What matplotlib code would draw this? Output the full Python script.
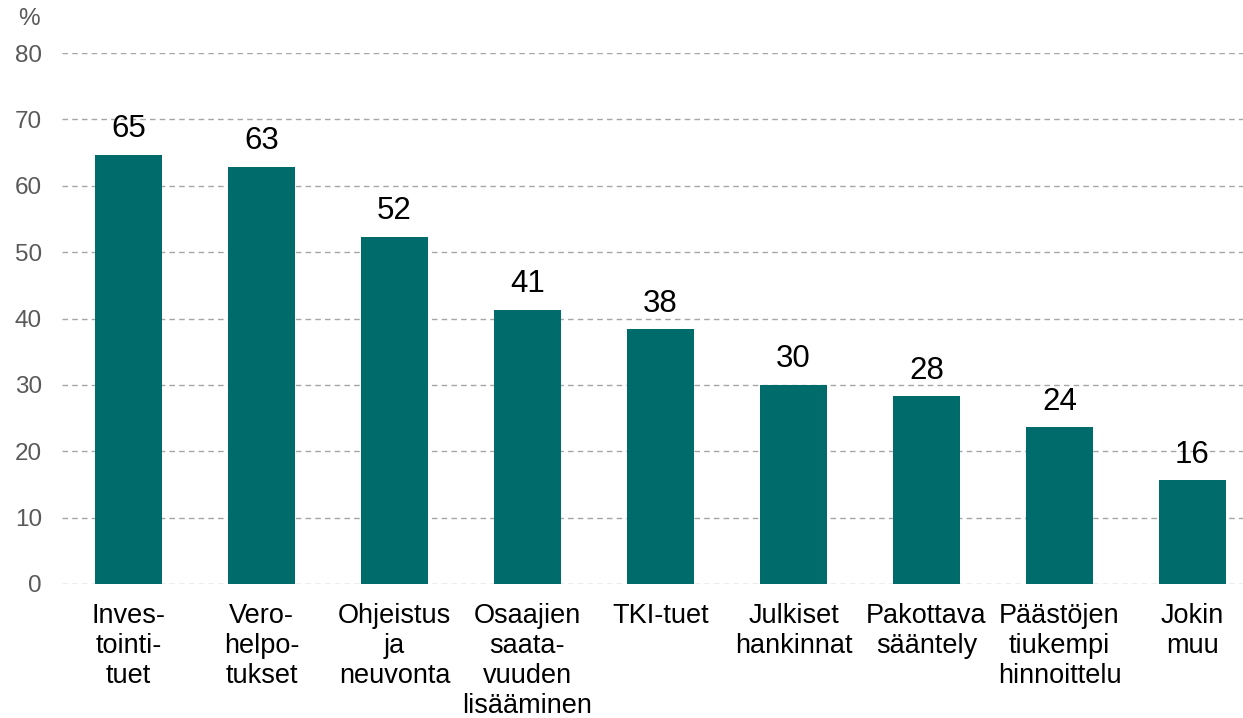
import numpy as np
import matplotlib.pyplot as plt

plt.rcParams['font.family'] = ['Liberation Sans', 'DejaVu Sans']

categories = ['Inves-\ntointi-\ntuet', 'Vero-\nhelpo-\ntukset', 'Ohjeistus\nja\nneuvonta',
              'Osaajien\nsaata-\nvuuden\nlisääminen', 'TKI-tuet', 'Julkiset\nhankinnat',
              'Pakottava\nsääntely', 'Päästöjen\ntiukempi\nhinnoittelu', 'Jokin\nmuu']
values = [64.7, 62.9, 52.3, 41.3, 38.4, 30.0, 28.3, 23.6, 15.6]
yticks = [0, 10, 20, 30, 40, 50, 60, 70, 80]

bar_color = '#006B6B'
grid_color = '#A6A6A6'
tick_color = '#595959'

fig = plt.figure(figsize=(12.43, 7.18), dpi=100)
ax = fig.add_axes([62 / 1243, 134 / 718, 1 - 62 / 1243, (584 - 53) / 718])

x = np.arange(len(categories))
ax.bar(x, values, width=0.5, color=bar_color, zorder=3)
for xi, v in zip(x, values):
    ax.text(xi, v + 2.65, f'{v:.0f}', ha='center', va='baseline', fontsize=22.5, color='black')

ax.set_xlim(-0.5, 8.38)
ax.set_ylim(0, 80)
ax.set_yticks(yticks)
ax.set_xticks(x)
ax.set_xticklabels(categories, fontsize=19.5, color='black', linespacing=1.2, va='top')
ax.tick_params(axis='y', labelsize=17.5, labelcolor=tick_color, length=0, pad=14.4)
ax.tick_params(axis='x', length=0, pad=14)
ax.yaxis.grid(True, color=grid_color, linestyle=(0, (4, 3)), linewidth=1, zorder=0)
for s in ax.spines.values():
    s.set_visible(False)

fig.text(18 / 1243, 1 - 19 / 718, '%', fontsize=17.5, color=tick_color, ha='left', va='center')

fig.savefig('out.png', dpi=100)
